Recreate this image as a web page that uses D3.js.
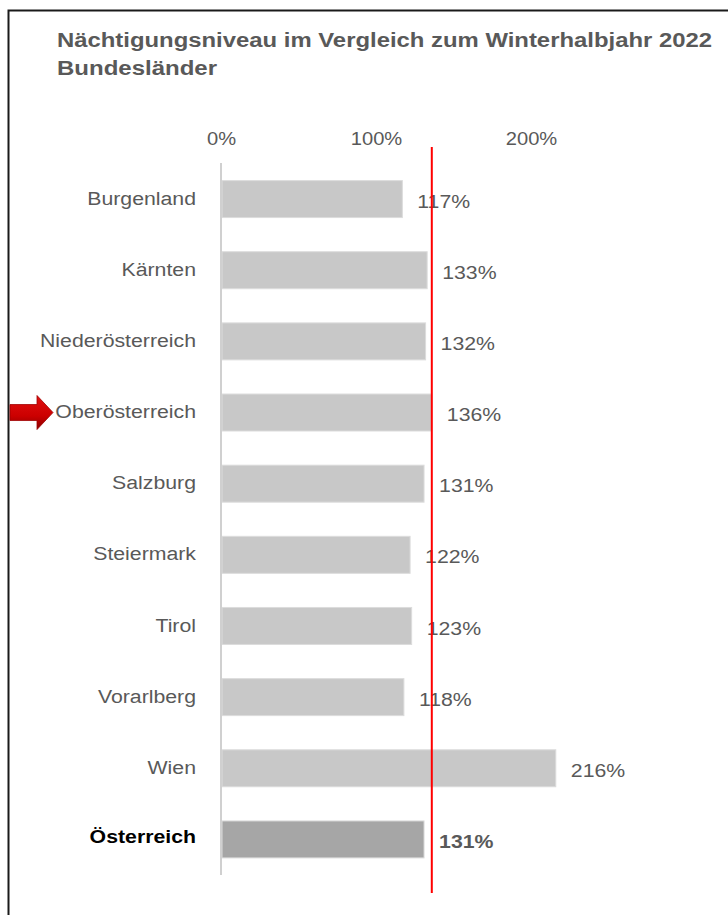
<!DOCTYPE html>
<html>
<head>
<meta charset="utf-8">
<script src="https://cdn.jsdelivr.net/npm/d3@7"></script>
<style>
  body { margin: 0; background: #fff; }
  svg { display: block; font-family: "Liberation Sans", Arial, sans-serif; }
</style>
</head>
<body>
<svg id="chart" width="728" height="915"></svg>
<script>
// data
var regions = ["Burgenland", "Kärnten", "Niederösterreich", "Oberösterreich", "Salzburg",
               "Steiermark", "Tirol", "Vorarlberg", "Wien", "Österreich"];
var values = [117, 133, 132, 136, 131, 122, 123, 118, 216, 131];
var ticks = [0, 100, 200];
var refValue = 136;          // red reference line (Oberösterreich)
var highlight = "Oberösterreich";
var total = "Österreich";

var svg = d3.select("#chart");
var stretch = "scale(1.12,1)";   // the source text is a bit wide

// frame (only top + left edge visible)
svg.append("rect")
    .attr("x", 8.5).attr("y", 10.5)
    .attr("width", 760).attr("height", 960)
    .attr("fill", "none")
    .attr("stroke", "#1a1a1a")
    .attr("stroke-width", 2);

// title
svg.append("text")
    .attr("x", 57).attr("y", 47)
    .attr("fill", "#595959")
    .attr("font-size", 20).attr("font-weight", "bold")
    .attr("textLength", 655).attr("lengthAdjust", "spacingAndGlyphs")
    .text("Nächtigungsniveau im Vergleich zum Winterhalbjahr 2022");
svg.append("text")
    .attr("x", 57).attr("y", 75)
    .attr("fill", "#595959")
    .attr("font-size", 20).attr("font-weight", "bold")
    .attr("textLength", 160).attr("lengthAdjust", "spacingAndGlyphs")
    .text("Bundesländer");

// scales
var x = d3.scaleLinear().domain([0, 200]).range([221, 531]);
var y = d3.scaleBand().domain(regions).range([163.5, 875])
    .paddingInner(0.48).paddingOuter(0.24);

// top axis tick labels
var xAxis = svg.append("g")
    .attr("transform", "translate(0,145)")
    .call(d3.axisTop(x).tickValues(ticks).tickSize(0).tickPadding(0)
        .tickFormat(function(d) { return d + "%"; }));
xAxis.select(".domain").remove();
xAxis.selectAll("text")
    .attr("fill", "#595959")
    .attr("font-size", 18)
    .attr("font-family", "Liberation Sans, Arial, sans-serif")
    .attr("transform", stretch);

// bars
svg.append("g").selectAll("rect")
    .data(regions)
    .enter().append("rect")
    .attr("x", x(0) + 1)
    .attr("y", function(d) { return y(d); })
    .attr("width", function(d, i) { return x(values[i]) - x(0) - 1; })
    .attr("height", y.bandwidth())
    .attr("fill", function(d) { return d === total ? "#a6a6a6" : "#c8c8c8"; })
    .attr("stroke", "#dcdcdc")
    .attr("stroke-width", 1);

// vertical base line
svg.append("line")
    .attr("x1", x(0)).attr("x2", x(0))
    .attr("y1", 163).attr("y2", 875)
    .attr("stroke", "#d0d0d0")
    .attr("stroke-width", 2);

// category labels
svg.append("g").selectAll("text")
    .data(regions)
    .enter().append("text")
    .attr("transform", function(d) {
        var cy = y(d) + y.bandwidth() / 2 + (d === total ? -3 : -1);
        return "translate(196," + cy + ") " + stretch;
    })
    .attr("dy", "0.35em")
    .attr("text-anchor", "end")
    .attr("font-size", 19)
    .attr("font-weight", function(d) { return d === total ? "bold" : "normal"; })
    .attr("fill", function(d) { return d === total ? "#000" : "#595959"; })
    .text(function(d) { return d; });

// value labels
svg.append("g").selectAll("text")
    .data(regions)
    .enter().append("text")
    .attr("transform", function(d, i) {
        return "translate(" + (x(values[i]) + 15) + "," + (y(d) + y.bandwidth() / 2 + 2) + ") " + stretch;
    })
    .attr("dy", "0.35em")
    .attr("font-size", 19)
    .attr("font-weight", function(d) { return d === total ? "bold" : "normal"; })
    .attr("fill", "#595959")
    .text(function(d, i) { return values[i] + "%"; });

// red reference line
svg.append("line")
    .attr("x1", x(refValue)).attr("x2", x(refValue))
    .attr("y1", 147).attr("y2", 893)
    .attr("stroke", "#ff0000")
    .attr("stroke-width", 2);

// red arrow pointing at highlighted region
var cy = y(highlight) + y.bandwidth() / 2;
var grad = svg.append("defs").append("linearGradient")
    .attr("id", "arrowGrad").attr("x1", 0).attr("y1", 0).attr("x2", 0).attr("y2", 1);
grad.append("stop").attr("offset", "0%").attr("stop-color", "#e01010");
grad.append("stop").attr("offset", "60%").attr("stop-color", "#cc0000");
grad.append("stop").attr("offset", "100%").attr("stop-color", "#8a0000");
svg.append("path")
    .attr("d", d3.line()([
        [10, cy - 8], [37, cy - 8], [37, cy - 17], [53, cy],
        [37, cy + 17], [37, cy + 8], [10, cy + 8]
    ]) + "Z")
    .attr("fill", "url(#arrowGrad)")
    .attr("stroke", "#a00000")
    .attr("stroke-width", 0.8);
</script>
</body>
</html>
